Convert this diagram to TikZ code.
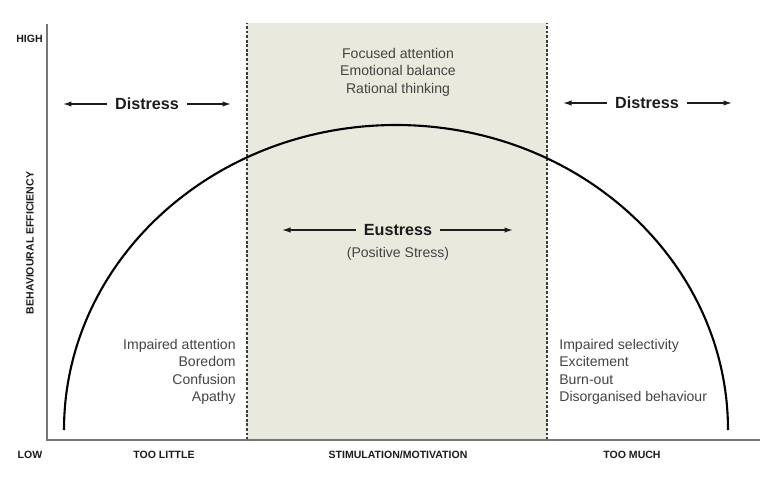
\documentclass[tikz,border=0pt]{standalone}
\usepackage{fontspec}
\setmainfont{Liberation Sans}
\usepackage{tikz}
\usetikzlibrary{arrows.meta, positioning}
\definecolor{cBand}{RGB}{233,233,221}
\definecolor{cAxis}{RGB}{118,118,118}
\definecolor{cEdge}{RGB}{60,60,60}
\definecolor{cInk}{RGB}{28,28,28}
\definecolor{cText}{RGB}{68,68,68}
\tikzset{
	% axis styles
	axisline/.style ={line width=1.1pt, draw=cAxis},
	axislbl/.style  ={font=\fontsize{6}{7}\selectfont\bfseries, text=cInk, inner sep=0pt},
	bandedge/.style ={line width=0.7pt, draw=cEdge, dash pattern=on 1.6pt off 1pt},
	% label styles
	stresslbl/.style={font=\fontsize{9.2}{11}\selectfont\bfseries, text=cInk, inner sep=4.5pt},
	subtxt/.style   ={font=\fontsize{8}{10}\selectfont, text=cText, inner sep=0pt},
	stressarrow/.style={-{Latex[length=1.7mm, width=1.1mm]}, line width=0.8pt, draw=cInk},
	curveline/.style={line width=1.2pt, draw=black},
}

\begin{document}
\begin{tikzpicture}[x=0.02cm, y=0.02cm]
	\useasboundingbox (0,0) rectangle (768,481);
	% optimal band
	\fill[cBand] (247,41) rectangle (547,458);
	\draw[bandedge] (247,41) -- (247,458);
	\draw[bandedge] (547,41) -- (547,458);
	% axes
	\coordinate (origin) at (47,41);
	\coordinate (ytop) at (47,457);
	\coordinate (xend) at (760,41);
	\draw[axisline] (ytop) -- (origin) -- (xend);
	\node[axislbl, anchor=east] (high) at (43,442) {HIGH};
	\node[axislbl] (low) at (30,26) {LOW};
	\node[axislbl, rotate=90] (yname) at (30,238) {BEHAVIOURAL EFFICIENCY};
	\node[axislbl] (little) at (164,26) {TOO LITTLE};
	\node[axislbl] (stim) at (398,26) {STIMULATION/MOTIVATION};
	\node[axislbl] (much) at (632,26) {TOO MUCH};
	% performance curve
	\draw[curveline] (64,51) arc[start angle=180, end angle=0, x radius=332, y radius=305];
	% distress / eustress labels
	\node[stresslbl] (distL) at (147,377) {Distress};
	\coordinate (distLa) at (63,377);
	\coordinate (distLb) at (231,377);
	\draw[stressarrow] (distL.west) -- (distLa);
	\draw[stressarrow] (distL.east) -- (distLb);
	\node[stresslbl] (distR) at (647,378) {Distress};
	\coordinate (distRa) at (563,378);
	\coordinate (distRb) at (732,378);
	\draw[stressarrow] (distR.west) -- (distRa);
	\draw[stressarrow] (distR.east) -- (distRb);
	\node[stresslbl] (eust) at (398,251) {Eustress};
	\coordinate (eustA) at (282,251);
	\coordinate (eustB) at (513,251);
	\draw[stressarrow] (eust.west) -- (eustA);
	\draw[stressarrow] (eust.east) -- (eustB);
	\node[subtxt, below=2pt of eust] (pos) {(Positive Stress)};
	% effects
	\node[subtxt, align=center] (optimal) at (398,409) {Focused attention\\Emotional balance\\Rational thinking};
	\node[subtxt, align=right, anchor=east] (under) at (236,109) {Impaired attention\\Boredom\\Confusion\\Apathy};
	\node[subtxt, align=left, anchor=west] (over) at (559,109) {Impaired selectivity\\Excitement\\Burn-out\\Disorganised behaviour};
\end{tikzpicture}
\end{document}
